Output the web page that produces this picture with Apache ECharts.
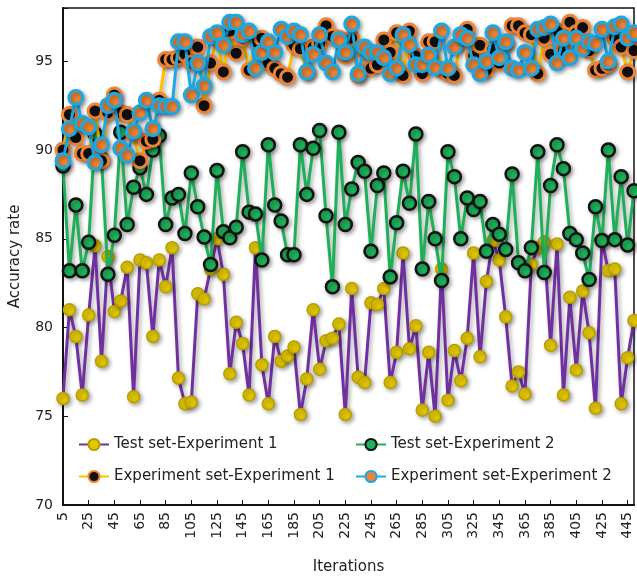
<!DOCTYPE html>
<html>
<head>
<meta charset="utf-8">
<script src="https://cdn.jsdelivr.net/npm/echarts@6/dist/echarts.min.js"></script>
<style>
html,body{margin:0;padding:0;background:#fff;}
#chart{width:637px;height:580px;}
</style>
</head>
<body>
<div id="chart"></div>
<script>
const iterations = ['5','10','15','20','25','30','35','40','45','50','55','60','65','70','75','80','85','90','95','100',
'105','110','115','120','125','130','135','140','145','150','155','160','165','170','175','180','185','190','195','200',
'205','210','215','220','225','230','235','240','245','250','255','260','265','270','275','280','285','290','295','300',
'305','310','315','320','325','330','335','340','345','350','355','360','365','370','375','380','385','390','395','400',
'405','410','415','420','425','430','435','440','445','450'];

const testExp1 = [76.0,81.0,79.5,76.2,80.7,84.6,78.1,84.0,80.9,81.5,83.4,76.1,83.8,83.65,79.5,83.8,82.3,84.5,77.15,75.7,
75.8,81.9,81.6,83.3,85.0,83.0,77.4,80.3,79.1,76.2,84.5,77.9,75.7,79.5,78.1,78.4,78.9,75.1,77.1,81.0,
77.65,79.25,79.4,80.2,75.1,82.2,77.2,76.9,81.4,81.3,82.2,76.9,78.6,84.2,78.8,80.1,75.35,78.6,75.0,83.3,
75.9,78.7,77.0,79.4,84.2,78.35,82.6,84.9,83.8,80.6,76.7,77.5,76.25,83.55,84.5,84.8,79.0,84.7,76.2,81.7,
77.6,82.05,79.7,75.45,84.9,83.2,83.3,75.7,78.3,80.4];

const testExp2 = [89.1,83.2,86.9,83.2,84.8,90.9,89.5,83.0,85.2,91.0,85.8,87.9,89.0,87.5,90.0,90.8,85.8,87.3,87.5,85.3,
88.7,86.8,85.1,83.55,88.85,85.4,85.05,85.65,89.9,86.5,86.4,83.8,90.3,86.9,86.0,84.1,84.1,90.3,87.5,90.1,
91.1,86.3,82.3,91.0,85.8,87.8,89.3,88.8,84.3,88.0,88.7,82.85,85.9,88.8,87.0,90.9,83.3,87.1,85.0,82.65,
89.9,88.5,85.0,87.3,86.65,87.1,84.3,85.8,85.25,84.4,88.65,83.65,83.2,84.5,89.9,83.1,88.0,90.3,88.95,85.3,
84.95,84.2,82.7,86.8,84.9,90.0,84.95,88.5,84.65,87.7];

const expSetExp1 = [90.0,92.0,90.7,89.8,89.8,92.2,89.4,92.1,93.1,92.1,92.0,90.9,89.4,90.5,90.6,92.8,95.1,95.1,95.2,95.4,
94.9,95.8,92.5,94.9,96.3,94.4,96.7,95.45,96.3,94.5,96.1,96.3,94.9,94.6,94.3,94.1,95.9,95.7,94.4,95.8,
96.0,97.0,96.4,96.3,95.3,96.3,94.2,95.6,94.6,94.8,96.2,95.5,96.6,94.2,96.7,95.3,94.3,96.1,96.1,94.5,
94.3,94.2,96.1,96.8,95.3,95.9,94.5,95.7,94.9,96.0,97.0,97.0,96.6,96.5,94.3,96.3,95.4,96.7,95.6,97.2,
96.6,96.9,95.6,94.5,94.6,94.8,96.3,95.8,94.4,95.6];

const expSetExp2 = [89.4,91.2,92.96,91.5,91.3,89.3,90.3,92.5,92.8,90.1,89.7,91.05,92.1,92.8,91.2,92.5,92.45,92.45,96.1,96.1,
93.1,94.9,93.6,96.4,96.6,95.9,97.2,97.2,96.5,96.7,94.6,95.5,96.1,95.5,96.8,96.4,96.7,96.5,94.4,95.4,
96.5,94.9,94.4,96.2,95.5,97.1,94.3,95.8,95.5,95.5,95.2,94.3,94.6,96.5,95.95,94.8,94.8,95.35,94.65,96.7,
94.6,95.8,96.5,96.3,94.8,94.3,95.0,96.6,95.2,96.1,94.6,94.5,95.5,94.6,96.8,96.9,97.1,94.9,96.3,95.2,
96.3,95.7,96.1,96.0,96.8,95.0,96.95,97.1,96.3,96.6];

const seriesNames = ['Test set-Experiment 1','Test set-Experiment 2','Experiment set-Experiment 1','Experiment set-Experiment 2'];
const yTicks = [70,75,80,85,90,95];

const FONT = 'DejaVu Sans';
const shadow = {shadowColor:'rgba(0,0,0,0.35)', shadowBlur:4, shadowOffsetX:2, shadowOffsetY:2};

function mk(name, data, lineColor, fill, border, bw, size, z){
  return {
    name: name, type:'line', data: data, symbol:'circle', symbolSize: size, z: z,
    showAllSymbol: true,
    lineStyle: Object.assign({color: lineColor, width: 3}, shadow),
    itemStyle: Object.assign({color: fill, borderColor: border, borderWidth: bw, opacity:1}, shadow),
    emphasis:{disabled:true}, animation:false
  };
}

const chart = echarts.init(document.getElementById('chart'), null, {renderer:'canvas'});

function lg(name, left, top){
  return {
    data:[name], left:left, top:top, itemWidth:30, itemHeight:14, itemGap:5,
    textStyle:{fontFamily:FONT, fontSize:15, color:'#222'}, selectedMode:false, padding:0
  };
}

chart.setOption({
  backgroundColor:'#fff',
  animation:false,
  textStyle:{fontFamily:FONT},
  grid:{left:63, right:3, top:8, bottom:72, show:true, borderColor:'#111', borderWidth:1.5, backgroundColor:'transparent'},
  legend:[
    lg(seriesNames[0], 78, 437),
    lg(seriesNames[1], 355, 437),
    lg(seriesNames[2], 78, 469),
    lg(seriesNames[3], 355, 469)
  ],
  xAxis:{
    type:'category', data: iterations, boundaryGap:false,
    name:'Iterations', nameLocation:'middle', nameGap:55,
    nameTextStyle:{fontFamily:FONT, fontSize:15, color:'#222'},
    axisLine:{lineStyle:{color:'#111', width:2}},
    axisTick:{show:true, inside:true, interval:3, length:5, lineStyle:{color:'#111', width:1}},
    axisLabel:{interval:3, rotate:90, fontFamily:FONT, fontSize:14, color:'#222', margin:7},
    splitLine:{show:false}
  },
  yAxis:{
    type:'value', min:70, max:98, interval:5,
    name:'Accuracy rate', nameLocation:'middle', nameGap:40,
    nameTextStyle:{fontFamily:FONT, fontSize:15, color:'#222'},
    axisLine:{show:true, lineStyle:{color:'#111', width:2}},
    axisTick:{show:true, inside:true, length:5, lineStyle:{color:'#111'}},
    axisLabel:{fontFamily:FONT, fontSize:14, color:'#222', margin:10,
      formatter: v => yTicks.indexOf(v) >= 0 ? String(v) : ''},
    splitLine:{show:false}
  },
  series:[
    mk(seriesNames[0], testExp1, '#7030A0', '#E2C700', '#B89E00', 1.5, 12, 2),
    mk(seriesNames[1], testExp2, '#1FAF58', '#1DB35B', '#111111', 2.5, 13, 3),
    mk(seriesNames[2], expSetExp1, '#FFC000', '#111111', '#EE8436', 3, 14, 4),
    mk(seriesNames[3], expSetExp2, '#1CA8E3', '#EE8436', '#1CA8E3', 3, 14, 5)
  ]
});
</script>
</body>
</html>
